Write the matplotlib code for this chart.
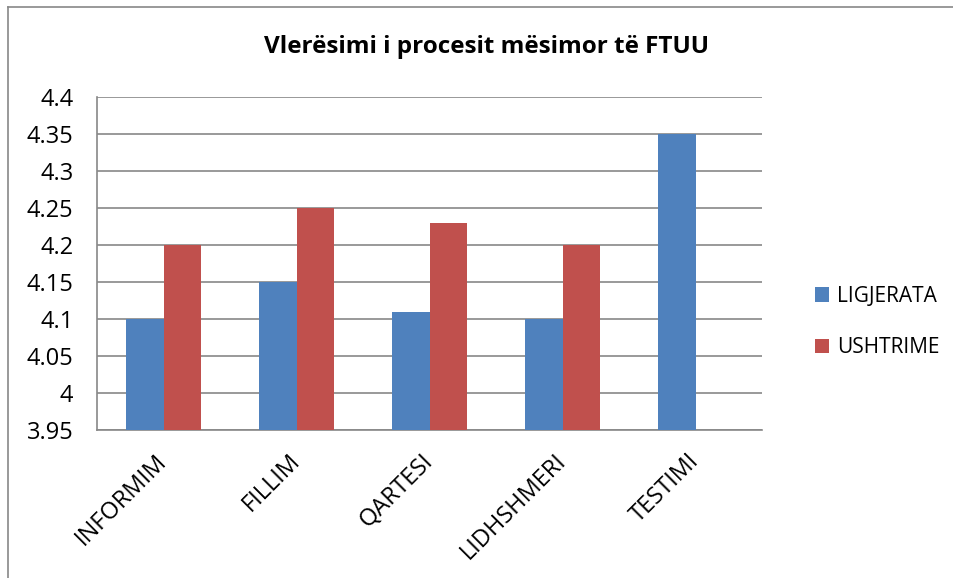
import numpy as np
import matplotlib
matplotlib.use("Agg")
import matplotlib.pyplot as plt
from matplotlib.lines import Line2D

categories = ["INFORMIM", "FILLIM", "QARTESI", "LIDHSHMERI", "TESTIMI"]
ligjerata = [4.10, 4.15, 4.11, 4.10, 4.35]
ushtrime = [4.20, 4.25, 4.23, 4.20, np.nan]
yticks = [3.95, 4.0, 4.05, 4.1, 4.15, 4.2, 4.25, 4.3, 4.35, 4.4]
ytick_labels = ["3.95", "4", "4.05", "4.1", "4.15", "4.2", "4.25", "4.3", "4.35", "4.4"]
title = "Vlerësimi i procesit mësimor të FTUU"

plt.rcParams['font.family'] = ['Open Sans', 'DejaVu Sans']

W, H = 954, 578
fig = plt.figure(figsize=(W / 100, H / 100), dpi=100)
ax = fig.add_axes([97 / W, 1 - 430 / H, (762 - 97) / W, (430 - 97) / H])

x = np.arange(len(categories))
bw = 0.2857
base = 3.95
ax.bar(x - bw / 2, np.array(ligjerata) - base, bw, bottom=base, color="#4F81BD", label="LIGJERATA", zorder=3)
ax.bar(x + bw / 2, np.array(ushtrime) - base, bw, bottom=base, color="#C0504D", label="USHTRIME", zorder=3)

ax.set_xlim(-0.5, len(categories) - 0.5)
ax.set_ylim(3.95, 4.4)
ax.set_yticks(yticks)
ax.set_yticklabels(ytick_labels, fontsize=17)
ax.yaxis.grid(True, color="#888888", linewidth=1.2, zorder=0)
ax.set_axisbelow(True)
ax.set_xticks(x)
ax.set_xticklabels(categories, rotation=45, ha="right", va="center", rotation_mode="anchor", fontsize=17)
ax.tick_params(axis="y", length=0, pad=17)
ax.tick_params(axis="x", length=0, pad=20)
for s in ["top", "right"]:
    ax.spines[s].set_visible(False)
for s in ["left", "bottom"]:
    ax.spines[s].set_color("#888888")
    ax.spines[s].set_linewidth(1.2)

fig.text(487 / W, 1 - 47 / H, title, ha="center", va="center", fontsize=17.5, fontweight="bold")

ax.legend(loc="center left", bbox_to_anchor=(800 / W, 1 - 322 / H), bbox_transform=fig.transFigure,
          frameon=False, fontsize=15, handlelength=0.7, handleheight=0.7, handletextpad=0.4,
          labelspacing=1.45, borderpad=0.2)

fig.add_artist(Line2D([8 / W, 8 / W], [0, 1 - 7 / H], transform=fig.transFigure, color="#888888", lw=1.2))
fig.add_artist(Line2D([8 / W, 1], [1 - 7 / H, 1 - 7 / H], transform=fig.transFigure, color="#888888", lw=1.2))

fig.savefig("out.png", dpi=100, facecolor="white")
